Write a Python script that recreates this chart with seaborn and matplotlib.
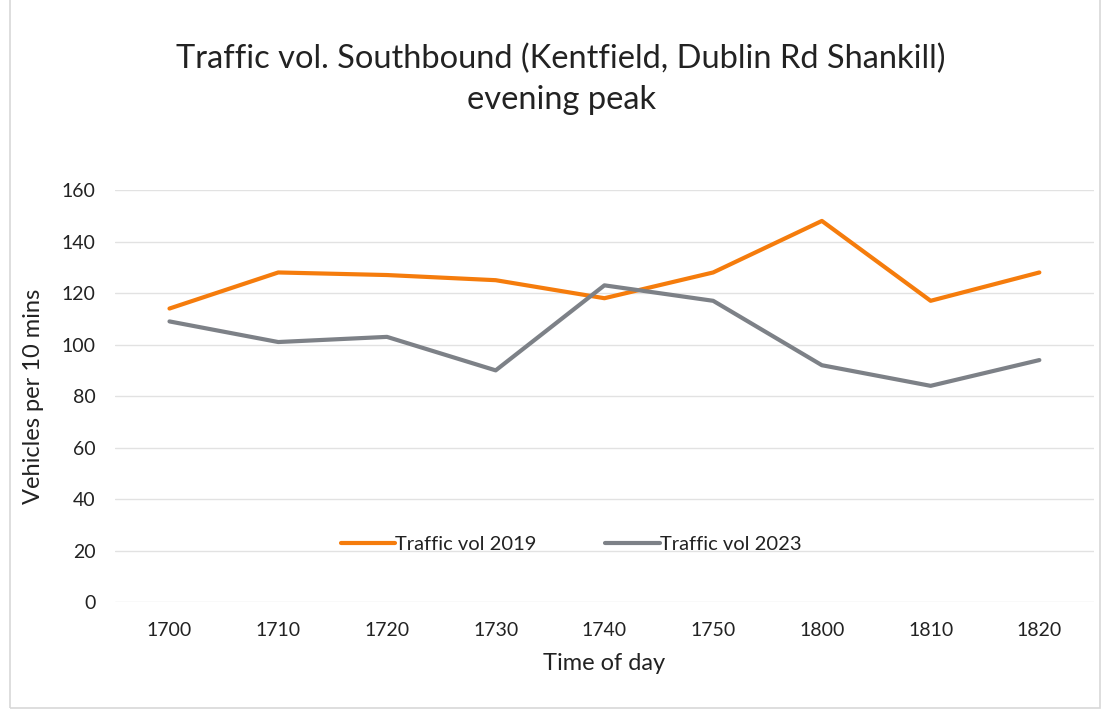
import matplotlib
matplotlib.use("Agg")
import matplotlib.pyplot as plt
import pandas as pd
import seaborn as sns

# data
times = ["1700", "1710", "1720", "1730", "1740", "1750", "1800", "1810", "1820"]
vol_2019 = [114, 128, 127, 125, 118, 128, 148, 117, 128]
vol_2023 = [109, 101, 103, 90, 123, 117, 92, 84, 94]
series_names = ["Traffic vol 2019", "Traffic vol 2023"]
y_ticks = [0, 20, 40, 60, 80, 100, 120, 140, 160]

sns.set_theme(style="white")
plt.rcParams["font.family"] = ["Lato", "DejaVu Sans"]

df = pd.DataFrame({
    "pos": list(range(len(times))) * 2,
    "vol": vol_2019 + vol_2023,
    "series": [series_names[0]] * len(times) + [series_names[1]] * len(times),
})

fig = plt.figure(figsize=(11.07, 7.17), dpi=100)
ax = fig.add_axes([0.104, 0.160, 0.884, 0.575])

sns.lineplot(data=df, x="pos", y="vol", hue="series",
             palette=["#F57C0C", "#7D8187"], linewidth=3, ax=ax,
             sort=False)

ax.set_xlim(-0.5, len(times) - 0.5)
ax.set_ylim(0, 160)
ax.set_yticks(y_ticks)
ax.set_xticks(range(len(times)))
ax.set_xticklabels(times)
ax.grid(axis="y", color="#E2E2E2", linewidth=1)
ax.set_axisbelow(True)
for s in ax.spines.values():
    s.set_visible(False)
ax.tick_params(axis="both", length=0, labelsize=14, colors="#222222")
ax.tick_params(axis="x", pad=14)
ax.tick_params(axis="y", pad=14)
ax.set_xlabel("Time of day", fontsize=17, color="#222222", labelpad=10)
ax.set_ylabel("Vehicles per 10 mins", fontsize=17, color="#222222", labelpad=13)

leg = ax.legend(loc="center", bbox_to_anchor=(0.466, 0.14), ncol=2, frameon=False,
                fontsize=14.5, handlelength=2.7, handletextpad=0.0,
                columnspacing=3.4)
for t in leg.get_texts():
    t.set_color("#222222")

fig.text(0.507, 0.918, "Traffic vol. Southbound (Kentfield, Dublin Rd Shankill)",
         ha="center", va="center", fontsize=23.5, color="#222222")
fig.text(0.507, 0.860, "evening peak", ha="center", va="center",
         fontsize=23.5, color="#222222")

# faint outer frame from the scanned chart
fig.add_artist(plt.Rectangle((0.009, 0.012), 0.985, 1.0, transform=fig.transFigure,
                             fill=False, edgecolor="#D8D8D8", linewidth=1.2))

fig.savefig("out.png", dpi=100)
